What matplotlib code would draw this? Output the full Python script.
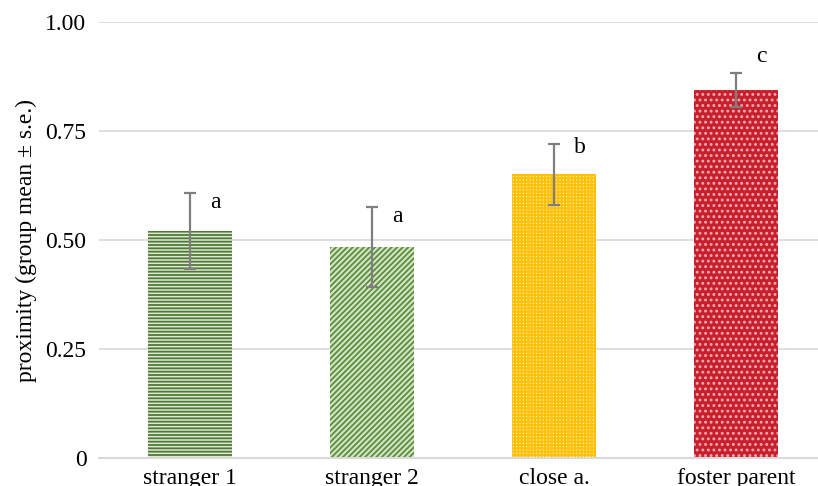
import numpy as np
import matplotlib.pyplot as plt

plt.rcParams['font.family'] = ['Liberation Serif', 'DejaVu Serif']
plt.rcParams['hatch.linewidth'] = 1.3

# data
groups = ["stranger 1", "stranger 2", "close a.", "foster parent"]
means = [0.521, 0.484, 0.651, 0.844]
se = [0.087, 0.091, 0.07, 0.038]
letters = ["a", "a", "b", "c"]
letter_y = [0.585, 0.555, 0.713, 0.922]

faces = ['#dfe8d6', '#d3e3c6', '#ffe7a0', '#c81f2d']
hatch_cols = ['#4f7a35', '#5a8f3c', '#ffc000', '#f0aab2']
hatches = ['-----', '//////', '+++++', '...']

fig = plt.figure(figsize=(8.18, 4.86), dpi=100)
ax = fig.add_axes([0.121, 0.0576, 0.879, 0.8971])

x = np.arange(len(groups))
for i in range(len(groups)):
    ax.bar(x[i], means[i], width=0.46, color=faces[i], edgecolor=hatch_cols[i],
           hatch=hatches[i], linewidth=0, zorder=2)
ax.errorbar(x, means, yerr=se, fmt='none', ecolor='#7f7f7f', elinewidth=1.6,
            capsize=4.5, capthick=1.6, zorder=3)
for i in range(len(groups)):
    ax.text(x[i] + 0.14, letter_y[i], letters[i], fontsize=17, ha='center', va='center')

ax.set_xlim(-0.5, 3.45)
ax.set_ylim(0, 1.0)
ax.set_yticks([0, 0.25, 0.5, 0.75, 1.0])
ax.set_yticklabels(["0", "0.25", "0.50", "0.75", "1.00"])
ax.set_xticks(x)
ax.set_xticklabels(groups)
ax.tick_params(axis='both', length=0, labelsize=17)
ax.tick_params(axis='y', pad=9)
ax.tick_params(axis='x', pad=7)
ax.grid(axis='y', color='#d9d9d9', linewidth=1.2, zorder=0)
ax.set_axisbelow(True)
for s in ['top', 'right', 'left']:
    ax.spines[s].set_visible(False)
ax.spines['bottom'].set_color('#d9d9d9')
ax.spines['bottom'].set_linewidth(1.5)
ax.set_ylabel("proximity (group mean ± s.e.)", fontsize=17, labelpad=6)

fig.savefig("out.png", dpi=100)
